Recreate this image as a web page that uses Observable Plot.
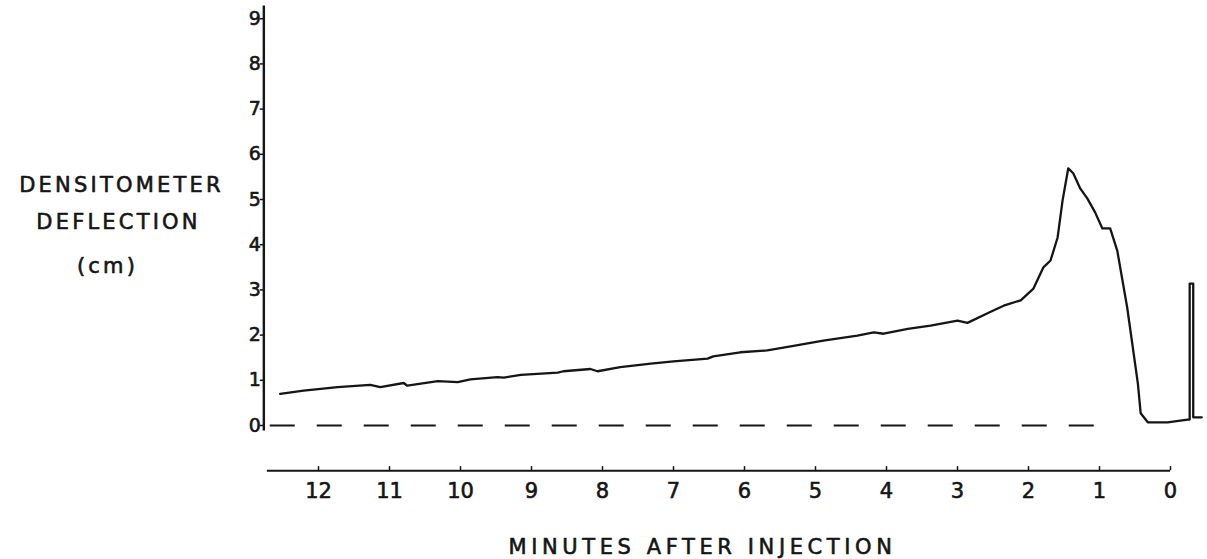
<!DOCTYPE html>
<html>
<head>
<meta charset="utf-8">
<script src="https://cdn.jsdelivr.net/npm/d3@7"></script>
<script src="https://cdn.jsdelivr.net/npm/@observablehq/plot@0.6"></script>
<style>
  html, body { margin: 0; padding: 0; background: #fff; }
  #chart { width: 1207px; height: 559px; }
  svg text { font-family: "DejaVu Sans", sans-serif; }
</style>
</head>
<body>
<div id="chart"></div>
<script>
// minutes after injection (time runs right-to-left)
const minutes = [12.54, 12.21, 11.73, 11.27, 11.13, 10.80, 10.75, 10.32, 10.04, 9.86, 9.48, 9.39, 9.15, 8.63, 8.55, 8.17, 8.07, 7.75, 7.32, 7.00, 6.52, 6.44, 6.06, 5.68, 5.35, 4.89, 4.41, 4.18, 4.04, 3.70, 3.38, 3.00, 2.86, 2.54, 2.35, 2.11, 1.93, 1.79, 1.69, 1.59, 1.52, 1.44, 1.37, 1.27, 1.17, 1.06, 0.96, 0.85, 0.75, 0.61, 0.46, 0.42, 0.32, 0.04, -0.24, -0.27, -0.27, -0.32, -0.32, -0.44];
// densitometer deflection (cm)
const deflection = [0.70, 0.77, 0.85, 0.90, 0.85, 0.94, 0.88, 0.98, 0.96, 1.02, 1.07, 1.06, 1.12, 1.17, 1.20, 1.25, 1.20, 1.29, 1.37, 1.42, 1.48, 1.53, 1.62, 1.66, 1.75, 1.88, 1.99, 2.06, 2.03, 2.14, 2.21, 2.32, 2.27, 2.51, 2.65, 2.77, 3.03, 3.50, 3.65, 4.16, 4.98, 5.69, 5.58, 5.24, 5.02, 4.71, 4.36, 4.36, 3.87, 2.61, 0.93, 0.27, 0.07, 0.07, 0.13, 0.13, 3.14, 3.14, 0.18, 0.18];
const xTicks = [12, 11, 10, 9, 8, 7, 6, 5, 4, 3, 2, 1, 0];
const yTicks = [0, 1, 2, 3, 4, 5, 6, 7, 8, 9];
const yTitle = ["DENSITOMETER", "DEFLECTION", "(cm)"];
const xTitle = ["MINUTES AFTER INJECTION"];

const data = minutes.map((t, i) => ({t, v: deflection[i]}));

// axis geometry (data units)
const yAxisAt = 12.77;      // position of the vertical axis line (minutes)
const xAxisAt = -1.0;       // position of the detached horizontal time axis (cm)
const xAxisStart = 12.72;
const baselineFrom = 12.68, baselineTo = 0.92;

const ink = "#151515";
const textInk = {fill: ink, stroke: ink, strokeWidth: 0.6};
const titleOpts = {frameAnchor: "top-left", text: d => d, textAnchor: "middle", lineAnchor: "middle", fontSize: 21, ...textInk};

const chart = Plot.plot({
  width: 1207,
  height: 559,
  marginLeft: 0,
  marginRight: 0,
  marginTop: 0,
  marginBottom: 0,
  x: {domain: [16.479, -0.521], axis: null},
  y: {domain: [-2.965, 9.403], axis: null},
  marks: [
    // dashed zero baseline
    Plot.ruleY([0], {x1: baselineFrom, x2: baselineTo, stroke: ink, strokeWidth: 2.2, strokeDasharray: "25,22"}),
    // vertical axis line
    Plot.ruleX([yAxisAt], {y1: -0.12, y2: 9.28, stroke: ink, strokeWidth: 2.4}),
    // y tick stubs
    Plot.ruleY(yTicks, {x1: yAxisAt, x2: yAxisAt + 0.05, stroke: ink, strokeWidth: 1.5}),
    // y tick labels
    Plot.text(yTicks, {x: yAxisAt, y: d => d, text: d => String(d), textAnchor: "end", dx: -3, fontSize: 19, ...textInk}),
    // detached time axis
    Plot.ruleY([xAxisAt], {x1: xAxisStart, x2: 0, stroke: ink, strokeWidth: 2}),
    Plot.ruleX(xTicks, {y1: xAxisAt, y2: xAxisAt + 0.09, stroke: ink, strokeWidth: 1.5}),
    Plot.text(xTicks, {x: d => d, y: xAxisAt, text: d => String(d), dy: 21, fontSize: 21, ...textInk}),
    // trace
    Plot.line(data, {x: "t", y: "v", stroke: ink, strokeWidth: 2.3, strokeLinejoin: "round"}),
    // titles
    Plot.text([yTitle[0]], {...titleOpts, dx: 121, dy: 185}),
    Plot.text([yTitle[1]], {...titleOpts, dx: 118, dy: 222}),
    Plot.text([yTitle[2]], {...titleOpts, dx: 107, dy: 266}),
    Plot.text(xTitle, {...titleOpts, dx: 702, dy: 547})
  ]
});
// widen the lettering of the titles like the stencil lettering of the original
d3.select(chart).selectAll("text")
  .filter(function() { return yTitle.includes(this.textContent); })
  .attr("letter-spacing", "3.2px");
d3.select(chart).selectAll("text")
  .filter(function() { return xTitle.includes(this.textContent); })
  .attr("letter-spacing", "4.6px");
document.getElementById("chart").append(chart);
</script>
</body>
</html>
